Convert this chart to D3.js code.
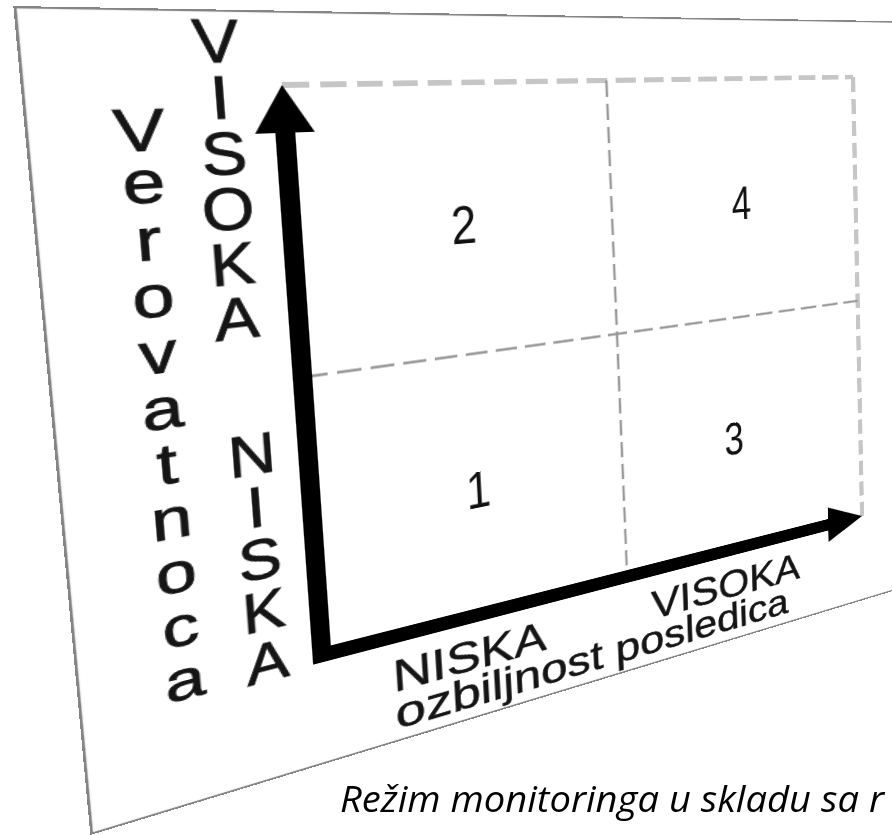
<!DOCTYPE html>
<html><head><meta charset="utf-8">
<script src="https://cdn.jsdelivr.net/npm/d3@7"></script>
<style>
html,body{margin:0;padding:0;overflow:hidden;background:#fff;width:892px;height:835px}
#paper{position:absolute;left:0;top:0;transform-origin:0 0}
#cap{position:absolute;left:0;top:0}
</style></head><body>
<script>
// ---------------- data ----------------
const severityLevels   = ["NISKA", "VISOKA"];           // x axis, left -> right
const likelihoodLevels = ["VISOKA", "NISKA"];           // y axis, top -> bottom
const cellSeverity     = ["NISKA", "VISOKA", "NISKA", "VISOKA"];
const cellLikelihood   = ["VISOKA", "VISOKA", "NISKA", "NISKA"];
const cellNumbers      = ["2", "4", "1", "3"];
const yAxisTitle = "Verovatnoca";
const xAxisTitle = "ozbiljnost posledica";
const caption    = "Režim monitoringa u skladu sa r";

// ---------------- layout (flat sheet, before the photo perspective) ----------------
const PW = 1040, PH = 794;
const G = {x: 188, y: 74, w: 600, h: 600};
// where the grid's four corners land in the photo (TL, TR, BR, BL)
const photoQuad = [[282, 85], [853, 77], [862, 516], [322, 655]];
const numberNudge = [0, 0, 0, -18];   // small horizontal offsets of the cell numbers

function squareToQuad(q) {
  const [[x0, y0], [x1, y1], [x2, y2], [x3, y3]] = q;
  const dx1 = x1 - x2, dx2 = x3 - x2, dx3 = x0 - x1 + x2 - x3;
  const dy1 = y1 - y2, dy2 = y3 - y2, dy3 = y0 - y1 + y2 - y3;
  const det = dx1 * dy2 - dx2 * dy1;
  const g = (dx3 * dy2 - dx2 * dy3) / det;
  const h = (dx1 * dy3 - dx3 * dy1) / det;
  return [[x1 - x0 + g * x1, x3 - x0 + h * x3, x0],
          [y1 - y0 + g * y1, y3 - y0 + h * y3, y0],
          [g, h, 1]];
}
function mul(A, B) {
  return A.map((r, i) => B[0].map((_, j) => r.reduce((s, v, k) => s + v * B[k][j], 0)));
}
const M = squareToQuad(photoQuad);
const T = [[1 / G.w, 0, -G.x / G.w], [0, 1 / G.h, -G.y / G.h], [0, 0, 1]];
const H = mul(M, T);

const svg = d3.select("body").append("svg")
  .attr("id", "paper").attr("width", PW).attr("height", PH)
  .style("transform", `matrix3d(${H[0][0]},${H[1][0]},0,${H[2][0]},${H[0][1]},${H[1][1]},0,${H[2][1]},0,0,1,0,${H[0][2]},${H[1][2]},0,${H[2][2]})`);

svg.append("rect").attr("x", 1).attr("y", 1).attr("width", PW - 2).attr("height", PH - 2)
  .attr("fill", "#fff").attr("stroke", "#858585").attr("stroke-width", 2.2);

const x = d3.scaleBand().domain(severityLevels).range([G.x, G.x + G.w]);
const y = d3.scaleBand().domain(likelihoodLevels).range([G.y, G.y + G.h]);
const [xl, xr] = x.range(), [yt, yb] = y.range();

// grid: outer top / right dashed, inner dividers dashed
const grid = svg.append("g").attr("fill", "none");
grid.append("path").attr("d", `M${xl},${yt}H${xr}`)
  .attr("stroke", "#c6c6c6").attr("stroke-width", 6).attr("stroke-dasharray", "22,9");
grid.append("path").attr("d", `M${xr},${yt}V${yb}`)
  .attr("stroke", "#c6c6c6").attr("stroke-width", 6).attr("stroke-dasharray", "20,9");
grid.append("path").attr("d", `M${x("VISOKA")},${yt}V${yb}`)
  .attr("stroke", "#999").attr("stroke-width", 2.6).attr("stroke-dasharray", "19,8");
grid.append("path").attr("d", `M${xl},${y("NISKA")}H${xr}`)
  .attr("stroke", "#999").attr("stroke-width", 2.8).attr("stroke-dasharray", "21,8");

// axes arrows
const head = 48, hw = 24;
svg.append("path").attr("d", `M${xl},${yt + head - 2}V${yb}H${xr - head + 2}`)
  .attr("fill", "none").attr("stroke", "#000").attr("stroke-width", 16).attr("stroke-linejoin", "miter");
svg.append("path").attr("d", `M${xl},${yt}L${xl + hw},${yt + head}L${xl - hw},${yt + head}Z`).attr("fill", "#000");
svg.append("path").attr("d", `M${xr},${yb}L${xr - head},${yb - hw}L${xr - head},${yb + hw}Z`).attr("fill", "#000");

// cell numbers
const nums = svg.append("g").attr("font-family", "'Liberation Sans Narrow','Arial Narrow',sans-serif")
  .attr("font-size", 60).attr("fill", "#111").attr("text-anchor", "middle");
cellNumbers.forEach((n, i) => {
  nums.append("text")
    .attr("x", x(cellSeverity[i]) + x.bandwidth() / 2 + numberNudge[i])
    .attr("y", y(cellLikelihood[i]) + y.bandwidth() / 2 + 26)
    .attr("textLength", 24).attr("lengthAdjust", "spacingAndGlyphs")
    .text(n);
});

// y tick labels: stacked letters
const stackStart = {VISOKA: -44, NISKA: 72};
const stackX = {VISOKA: xl - 49, NISKA: xl - 45};
const stackStep = 55, capFs = 52, capSy = 1.13;
const ylab = svg.append("g").attr("font-family", "'Liberation Sans',Arial,sans-serif")
  .attr("font-size", capFs).attr("fill", "#151515").attr("stroke", "#151515").attr("stroke-width", 0.9)
  .attr("text-anchor", "middle");
likelihoodLevels.forEach(lvl => {
  lvl.split("").forEach((ch, i) => {
    const cy = y(lvl) + stackStart[lvl] + i * stackStep;
    ylab.append("text")
      .attr("transform", `translate(${stackX[lvl]},${cy + 0.358 * capFs * capSy}) scale(1,${capSy})`)
      .text(ch);
  });
});

// y title stacked
const tFs = 55, tSy = 1.04;
const ytitle = svg.append("g").attr("font-family", "'Liberation Sans',Arial,sans-serif")
  .attr("font-size", tFs).attr("fill", "#151515").attr("stroke", "#151515").attr("stroke-width", 0.9)
  .attr("text-anchor", "middle");
yAxisTitle.split("").forEach((ch, i) => {
  const cy = yt + 40 + i * 55.4;
  const half = (ch === ch.toUpperCase() ? 0.358 : 0.26) * tFs * tSy;
  ytitle.append("text")
    .attr("transform", `translate(${xl - 110},${cy + half}) scale(1,${tSy})`)
    .text(ch);
});

// x tick labels & title
const xShift = {NISKA: -15, VISOKA: -31};
const xlab = svg.append("g").attr("font-family", "'Liberation Sans',Arial,sans-serif")
  .attr("font-size", 50).attr("fill", "#151515").attr("stroke", "#151515").attr("stroke-width", 0.6)
  .attr("text-anchor", "middle");
severityLevels.forEach(lvl => {
  xlab.append("text").attr("x", x(lvl) + x.bandwidth() / 2 + xShift[lvl]).attr("y", yb + 63)
    .text(lvl);
});
xlab.append("text").attr("x", xl + 278).attr("y", yb + 106)
  .attr("textLength", 435).attr("lengthAdjust", "spacingAndGlyphs").text(xAxisTitle);

// caption (not part of the photographed sheet)
const cap = d3.select("body").append("svg").attr("id", "cap").attr("width", 892).attr("height", 835);
cap.append("text").attr("x", 340).attr("y", 812)
  .attr("font-family", "'Open Sans','Noto Sans',sans-serif").attr("font-style", "italic")
  .attr("font-size", 37).attr("fill", "#000")
  .attr("textLength", 544).attr("lengthAdjust", "spacingAndGlyphs")
  .text(caption);
</script>
</body></html>
